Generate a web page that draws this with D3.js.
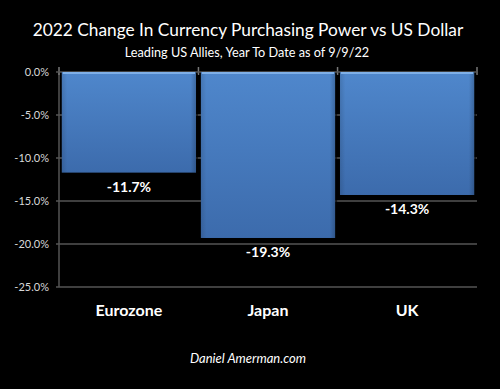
<!DOCTYPE html>
<html>
<head>
<meta charset="utf-8">
<script src="https://cdn.jsdelivr.net/npm/d3@7"></script>
<style>
  html, body { margin: 0; padding: 0; background: #000; }
  svg { display: block; }
</style>
</head>
<body>
<svg id="chart" width="500" height="389"></svg>
<script>
// chart data
const categories = ["Eurozone", "Japan", "UK"];
const values = [-11.7, -19.3, -14.3];
const yTicks = [0, -5, -10, -15, -20, -25];

const svg = d3.select("#chart");
const W = 500, H = 389;
const plotLeft = 59, plotRight = 477, plotTop = 72, plotBottom = 287;

svg.append("rect").attr("width", W).attr("height", H).attr("fill", "#000");

// gradient for the bars
const defs = svg.append("defs");
const grad = defs.append("linearGradient").attr("id", "barGrad")
  .attr("x1", 0).attr("y1", 0).attr("x2", 0).attr("y2", 1);
grad.append("stop").attr("offset", "0%").attr("stop-color", "#4f87cc");
grad.append("stop").attr("offset", "100%").attr("stop-color", "#3c6bac");

const side = defs.append("linearGradient").attr("id", "sideGrad")
  .attr("x1", 0).attr("y1", 0).attr("x2", 1).attr("y2", 0);
side.append("stop").attr("offset", "0%").attr("stop-color", "#000").attr("stop-opacity", 0.12);
side.append("stop").attr("offset", "4%").attr("stop-color", "#000").attr("stop-opacity", 0);
side.append("stop").attr("offset", "96%").attr("stop-color", "#000").attr("stop-opacity", 0);
side.append("stop").attr("offset", "100%").attr("stop-color", "#000").attr("stop-opacity", 0.2);

const x = d3.scaleBand().domain(categories).range([plotLeft, plotRight])
  .paddingInner(0.035).paddingOuter(0.02);
const y = d3.scaleLinear().domain([-25, 0]).range([plotBottom, plotTop]);

// gridlines
svg.append("g").selectAll("line").data(yTicks.filter(d => d !== 0)).join("line")
  .attr("x1", plotLeft - 3).attr("x2", plotRight)
  .attr("y1", d => y(d)).attr("y2", d => y(d))
  .attr("stroke", "#555").attr("stroke-width", 1.5);

// y axis line
svg.append("line").attr("x1", plotLeft).attr("x2", plotLeft)
  .attr("y1", plotTop).attr("y2", plotBottom)
  .attr("stroke", "#555").attr("stroke-width", 1.5);

// tick labels
svg.append("g").selectAll("text").data(yTicks).join("text")
  .attr("x", plotLeft - 10).attr("y", d => y(d) + 4)
  .attr("text-anchor", "end")
  .attr("fill", "#d8d8d8")
  .style("font-family", "Lato, 'Open Sans', sans-serif")
  .style("font-size", "11px")
  .text(d => d.toFixed(1) + "%");

// category boundary ticks on the zero line
const bounds = [plotLeft, ...categories.map(c => x(c) + x.bandwidth() + x.step() * x.paddingInner() / 2)];
bounds[bounds.length - 1] = plotRight;
svg.append("g").selectAll("line").data(bounds).join("line")
  .attr("x1", d => d).attr("x2", d => d)
  .attr("y1", y(0) - 5).attr("y2", y(0) + 3)
  .attr("stroke", "#777").attr("stroke-width", 1.5);
svg.append("line").attr("x1", plotLeft - 3).attr("x2", plotRight)
  .attr("y1", y(0)).attr("y2", y(0))
  .attr("stroke", "#555").attr("stroke-width", 1.5);

// bars
const bars = svg.append("g").selectAll("g").data(categories).join("g");
bars.append("rect")
  .attr("x", c => x(c) + 2).attr("y", y(0) + 2)
  .attr("width", x.bandwidth()).attr("height", (c, i) => y(values[i]) - y(0))
  .attr("fill", "#000").attr("opacity", 0.6);
bars.append("rect")
  .attr("x", c => x(c)).attr("y", y(0))
  .attr("width", x.bandwidth()).attr("height", (c, i) => y(values[i]) - y(0))
  .attr("fill", "url(#barGrad)");
bars.append("rect")
  .attr("x", c => x(c)).attr("y", y(0))
  .attr("width", x.bandwidth()).attr("height", (c, i) => y(values[i]) - y(0))
  .attr("fill", "url(#sideGrad)");
bars.append("line")
  .attr("x1", c => x(c) + 1).attr("x2", c => x(c) + x.bandwidth() - 1)
  .attr("y1", y(0) + 1).attr("y2", y(0) + 1)
  .attr("stroke", "#7fb0e8").attr("stroke-width", 2);

// value labels
bars.append("text")
  .attr("x", c => x(c) + x.bandwidth() / 2)
  .attr("y", (c, i) => y(values[i]) + 19)
  .attr("text-anchor", "middle")
  .attr("fill", "#fff")
  .style("font-family", "Lato, 'Open Sans', sans-serif")
  .style("font-weight", "bold")
  .style("font-size", "14px")
  .text((c, i) => values[i].toFixed(1) + "%");

// category labels
svg.append("g").selectAll("text").data(categories).join("text")
  .attr("x", c => x(c) + x.bandwidth() / 2)
  .attr("y", 316)
  .attr("text-anchor", "middle")
  .attr("fill", "#fff")
  .style("font-family", "Lato, 'Open Sans', sans-serif")
  .style("font-weight", "bold")
  .style("font-size", "16px")
  .text(c => c);

// titles
svg.append("text").attr("x", 248).attr("y", 36)
  .attr("text-anchor", "middle").attr("fill", "#fff")
  .style("font-family", "Lato, 'Open Sans', sans-serif")
  .style("font-size", "17.3px")
  .text("2022 Change In Currency Purchasing Power vs US Dollar");
svg.append("text").attr("x", 247).attr("y", 57)
  .attr("text-anchor", "middle").attr("fill", "#fff")
  .style("font-family", "Lato, 'Open Sans', sans-serif")
  .style("font-size", "12.7px")
  .text("Leading US Allies, Year To Date as of 9/9/22");

// footer
svg.append("text").attr("x", 248).attr("y", 363)
  .attr("text-anchor", "middle").attr("fill", "#fff")
  .style("font-family", "Lato, 'Open Sans', sans-serif")
  .style("font-style", "italic")
  .style("font-size", "13px")
  .text("Daniel Amerman.com");
</script>
</body>
</html>
